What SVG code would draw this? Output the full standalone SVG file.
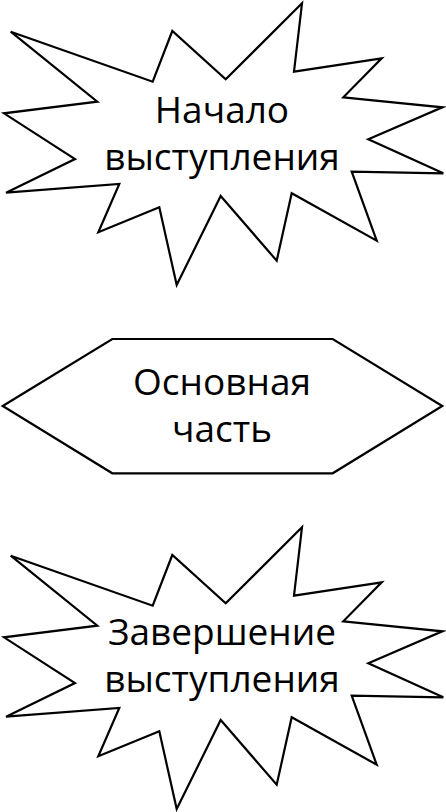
<svg xmlns="http://www.w3.org/2000/svg" width="446" height="812" viewBox="0 0 446 812">
<style>
.shape{fill:#fff;stroke:#000;stroke-width:2.2;stroke-linejoin:miter}
.lbl{font-family:"Open Sans","Noto Sans","DejaVu Sans",sans-serif;font-size:37px;fill:#000;text-anchor:middle}
</style>
<defs>
<polygon id="burst" points="10.7,31.7 152.7,81.7 172.3,31 225.7,79.3 302,3.3 294,71.7 381.7,58.3 343.3,97.3 442.3,107.3 368.3,139.3 443.3,173.3 351.7,171.7 376.7,240.7 291.7,193.3 276.7,260.7 220.7,196 176.7,285 159.3,207.3 98.3,232.3 119.3,184 6,192.7 75,159 4,113.3 97.3,101.7"/>
</defs>
<g id="connectors"></g>
<g id="start">
<use href="#burst" class="shape"/>
<text class="lbl" x="222" y="123">Начало</text>
<text class="lbl" x="222" y="170">выступления</text>
</g>
<g id="main">
<polygon class="shape" points="2.7,406 112.3,339 332.7,339 442.3,406 332.7,473.3 112.3,473.3"/>
<text class="lbl" x="222" y="395">Основная</text>
<text class="lbl" x="222" y="442">часть</text>
</g>
<g id="end">
<use href="#burst" class="shape" transform="translate(0,524)"/>
<text class="lbl" x="222" y="645">Завершение</text>
<text class="lbl" x="222" y="692">выступления</text>
</g>
</svg>
